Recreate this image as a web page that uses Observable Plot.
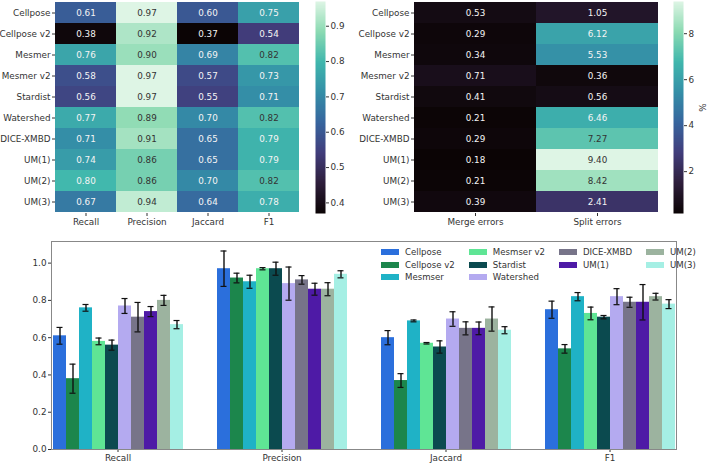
<!DOCTYPE html>
<html><head><meta charset="utf-8">
<script src="https://cdn.jsdelivr.net/npm/d3@7"></script>
<script src="https://cdn.jsdelivr.net/npm/@observablehq/plot@0.6"></script>
<style>
body{margin:0;background:#fff;font-family:"DejaVu Sans",sans-serif;}
#root{position:relative;width:708px;height:465px;overflow:hidden;background:#fff;}
#root > div{position:absolute;}
#root svg{background:transparent !important;}
.legend{display:flex;gap:14px;font-size:8.6px;color:#333;}
.legend .col{display:flex;flex-direction:column;}
.legend .item{display:flex;align-items:center;height:12.5px;white-space:nowrap;}
.legend .sw{width:18px;height:6px;margin-right:6px;display:inline-block;}
</style></head><body><div id="root"></div>
<script>
// ---------- data ----------
const methods = ["Cellpose","Cellpose v2","Mesmer","Mesmer v2","Stardist","Watershed","DICE-XMBD","UM(1)","UM(2)","UM(3)"];
const legendNames = ["Cellpose","Cellpose v2","Mesmser","Mesmser v2","Stardist","Watershed","DICE-XMBD","UM(1)","UM(2)","UM(3)"];
const metrics = ["Recall","Precision","Jaccard","F1"];
const recall    = [0.61,0.38,0.76,0.58,0.56,0.77,0.71,0.74,0.80,0.67];
const precision = [0.97,0.92,0.90,0.97,0.97,0.89,0.91,0.86,0.86,0.94];
const jaccard   = [0.60,0.37,0.69,0.57,0.55,0.70,0.65,0.65,0.70,0.64];
const f1        = [0.75,0.54,0.82,0.73,0.71,0.82,0.79,0.79,0.82,0.78];
const errorTypes = ["Merge errors","Split errors"];
const mergeErrors = [0.53,0.29,0.34,0.71,0.41,0.21,0.29,0.18,0.21,0.39];
const splitErrors = [1.05,6.12,5.53,0.36,0.56,6.46,7.27,9.40,8.42,2.41];
const recallErr    = [0.045,0.078,0.018,0.018,0.027,0.040,0.079,0.027,0.027,0.022];
const precisionErr = [0.095,0.026,0.035,0.006,0.035,0.089,0.023,0.032,0.035,0.019];
const jaccardErr   = [0.038,0.037,0.005,0.004,0.033,0.039,0.035,0.034,0.065,0.019];
const f1Err        = [0.046,0.023,0.022,0.034,0.009,0.043,0.027,0.095,0.018,0.024];
const barColors = ["#2b6fdc","#1c864c","#1fb2c6","#5fe595","#0b4a4f","#b4aaf0","#777489","#4e1aa6","#9cb39f","#a5efe4"];
const legendColumns = [3,3,2,2];
const colorbarTicksLeft = [0.4,0.5,0.6,0.7,0.8,0.9];
const colorbarTicksRight = [2,4,6,8];

// ---------- helpers ----------
const makoStops = ["#0b0405","#2e1e3b","#413d7b","#37659e","#348fa7","#40b7ad","#8bdab2","#def5e5"];
const mako = d3.piecewise(d3.interpolateRgb, makoStops);
const root = document.getElementById("root");
function place(node, left, top) {
  const d = document.createElement("div");
  d.style.left = left + "px"; d.style.top = top + "px";
  d.appendChild(node); root.appendChild(d);
}
const baseStyle = {fontFamily: "DejaVu Sans, sans-serif", fontSize: "8.8px", color: "#333", background: "transparent", overflow: "visible"};

function heatmap(cells, cols, width, ml, mr) {
  const ext = d3.extent(cells, d => d.value);
  const dark = d => (d.value - ext[0]) / (ext[1] - ext[0]) > 0.74;
  return Plot.plot({
    width, height: 235, marginLeft: ml, marginRight: mr, marginTop: 1, marginBottom: 22,
    style: baseStyle,
    x: {domain: cols, padding: 0, label: null, tickSize: 3, tickPadding: 2},
    y: {domain: methods, padding: 0, label: null, tickSize: 3, tickPadding: 2},
    color: {type: "linear", domain: ext, interpolate: mako},
    marks: [
      Plot.cell(cells, {x: "col", y: "method", fill: "value", inset: 0}),
      Plot.text(cells.filter(d => !dark(d)), {x: "col", y: "method", text: d => d.value.toFixed(2), fill: "#f4f4f4", fontSize: 8.8}),
      Plot.text(cells.filter(dark), {x: "col", y: "method", text: d => d.value.toFixed(2), fill: "#333333", fontSize: 8.8})
    ]
  });
}
function colorbar(ext, ticks, width, mr, label) {
  const fmt = d => label ? String(d) : d.toFixed(1);
  return Plot.plot({
    width, height: 235, marginLeft: 0, marginRight: mr, marginTop: 1, marginBottom: 22,
    style: baseStyle,
    x: {domain: [0, 1], axis: null},
    y: {domain: ext, label: null, axis: null},
    color: {type: "linear", domain: ext, interpolate: mako},
    marks: [
      Plot.raster({x1: 0, x2: 1, y1: ext[0], y2: ext[1], width: 1, height: 300, fill: (x, y) => y, imageRendering: "auto"}),
      Plot.axisY({anchor: "right", ticks, tickSize: 3, tickPadding: 2, tickFormat: fmt,
        label: label || null, labelAnchor: "center", labelArrow: "none", labelOffset: 22})
    ]
  });
}

// ---------- top-left heatmap ----------
const leftSeries = [recall, precision, jaccard, f1];
const leftCells = methods.flatMap((m, i) => metrics.map((c, j) => ({method: m, col: c, value: leftSeries[j][i]})));
place(heatmap(leftCells, metrics, 310, 55, 11), 0, 0);
place(colorbar(d3.extent(leftCells, d => d.value), colorbarTicksLeft, 30, 20, null), 315, 0);

// ---------- top-right heatmap ----------
const rightSeries = [mergeErrors, splitErrors];
const rightCells = methods.flatMap((m, i) => errorTypes.map((c, j) => ({method: m, col: c, value: rightSeries[j][i]})));
place(heatmap(rightCells, errorTypes, 330, 74, 12), 340, 0);
place(colorbar(d3.extent(rightCells, d => d.value), colorbarTicksRight, 35, 25, "%"), 673, 0);

// ---------- bar chart ----------
const barSeries = [recall, precision, jaccard, f1];
const errSeries = [recallErr, precisionErr, jaccardErr, f1Err];
const bars = metrics.flatMap((k, j) => legendNames.map((m, i) => ({metric: k, method: m, value: barSeries[j][i], err: errSeries[j][i]})));
const barPlot = Plot.plot({
  width: 708, height: 225, marginLeft: 19, marginRight: 1, marginTop: 1, marginBottom: 16,
  style: baseStyle,
  fx: {domain: metrics, paddingInner: 0.19, paddingOuter: 0.19, label: null},
  x: {domain: legendNames, padding: 0, axis: null},
  y: {domain: [0, 1.116], label: null},
  color: {domain: legendNames, range: barColors},
  marks: [
    Plot.barY(bars, {fx: "metric", x: "method", y: "value", fill: "method", inset: 0}),
    Plot.ruleX(bars, {fx: "metric", x: "method", y1: d => d.value - d.err, y2: d => d.value + d.err, stroke: "#111", strokeWidth: 1.4}),
    Plot.tickY(bars, {fx: "metric", x: "method", y: d => d.value - d.err, stroke: "#111", strokeWidth: 1.2, insetLeft: 3.5, insetRight: 3.5}),
    Plot.tickY(bars, {fx: "metric", x: "method", y: d => d.value + d.err, stroke: "#111", strokeWidth: 1.2, insetLeft: 3.5, insetRight: 3.5}),
    Plot.axisY({ticks: [0, 0.2, 0.4, 0.6, 0.8, 1.0], tickFormat: d => d.toFixed(1), tickSize: 3, tickPadding: 2, label: null}),
    Plot.axisFx({anchor: "bottom", tickSize: 3, tickPadding: 2, label: null}),
    Plot.frame({facet: "super", stroke: "#888", strokeWidth: 1})
  ]
});
place(barPlot, 0, 240);

// ---------- legend ----------
const leg = document.createElement("div");
leg.className = "legend";
let k = 0;
for (const n of legendColumns) {
  const col = document.createElement("div"); col.className = "col";
  for (let r = 0; r < n; r++, k++) {
    const it = document.createElement("div"); it.className = "item";
    const sw = document.createElement("span"); sw.className = "sw"; sw.style.background = barColors[k];
    it.appendChild(sw); it.appendChild(document.createTextNode(legendNames[k]));
    col.appendChild(it);
  }
  leg.appendChild(col);
}
const legWrap = document.createElement("div");
legWrap.style.left = "381px"; legWrap.style.top = "246px";
legWrap.appendChild(leg); root.appendChild(legWrap);
</script></body></html>
